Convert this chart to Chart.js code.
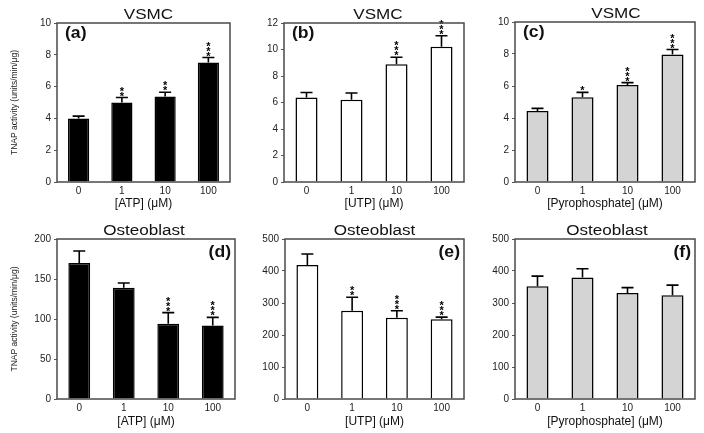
<!DOCTYPE html>
<html><head><meta charset="utf-8">
<script src="https://cdn.jsdelivr.net/npm/chart.js@4/dist/chart.umd.min.js"></script>
<style>
html,body{margin:0;padding:0;background:#fff;}
#wrap{position:relative;width:704px;height:433px;overflow:hidden;background:#fff;}
#wrap canvas{position:absolute;}
</style></head><body><div id="wrap"></div>
<script>
// ---- data ----
const categories = ['0', '1', '10', '100'];

const vsmcAtp    = [4.0, 5.0, 5.38, 7.52];
const vsmcAtpErr = [0.14, 0.31, 0.26, 0.31];
const vsmcAtpSig = ['', '**', '**', '***'];

const vsmcUtp    = [6.38, 6.2, 8.88, 10.2];
const vsmcUtpErr = [0.38, 0.52, 0.54, 0.84];
const vsmcUtpSig = ['', '', '***', '***'];

const vsmcPpi    = [4.44, 5.3, 6.06, 7.97];
const vsmcPpiErr = [0.16, 0.3, 0.15, 0.31];
const vsmcPpiSig = ['', '*', '***', '***'];

const obAtp    = [170, 139, 94, 92];
const obAtpErr = [15, 6, 14, 10];
const obAtpSig = ['', '', '***', '***'];

const obUtp    = [419, 276, 254, 249];
const obUtpErr = [34, 42, 22, 7];
const obUtpSig = ['', '**', '***', '***'];

const obPpi    = [352, 380, 331, 324];
const obPpiErr = [32, 27, 17, 32];
const obPpiSig = ['', '', '', ''];

const panelTitles = ['VSMC', 'VSMC', 'VSMC', 'Osteoblast', 'Osteoblast', 'Osteoblast'];
const panelLetters = ['(a)', '(b)', '(c)', '(d)', '(e)', '(f)'];
const xTitles = ['[ATP] (\u03BCM)', '[UTP] (\u03BCM)', '[Pyrophosphate] (\u03BCM)',
                 '[ATP] (\u03BCM)', '[UTP] (\u03BCM)', '[Pyrophosphate] (\u03BCM)'];
const yTitle = 'TNAP activity (units/min/\u03BCg)';
const yMax  = [10, 12, 10, 200, 500, 500];
const yStep = [2, 2, 2, 50, 100, 100];

// ---- layout (page pixels) ----
const panels = [
  {vals: vsmcAtp, err: vsmcAtpErr, sig: vsmcAtpSig, fill: '#000000', titleDx: 5,
   canvas: {l: 0, t: 0, w: 240, h: 215}, plot: {l: 57, t: 23, r: 230, b: 182}, letterLeft: true, yTitle: true},
  {vals: vsmcUtp, err: vsmcUtpErr, sig: vsmcUtpSig, fill: '#ffffff', titleDx: 4,
   canvas: {l: 240, t: 0, w: 236, h: 215}, plot: {l: 284, t: 23, r: 464, b: 182}, letterLeft: true},
  {vals: vsmcPpi, err: vsmcPpiErr, sig: vsmcPpiSig, fill: '#d4d4d4', titleDx: 11,
   canvas: {l: 476, t: 0, w: 228, h: 215}, plot: {l: 515, t: 22, r: 695, b: 182}, letterLeft: true},
  {vals: obAtp, err: obAtpErr, sig: obAtpSig, fill: '#000000', titleDx: -2,
   canvas: {l: 0, t: 215, w: 240, h: 218}, plot: {l: 57, t: 239, r: 235, b: 399}, letterLeft: false, yTitle: true},
  {vals: obUtp, err: obUtpErr, sig: obUtpSig, fill: '#ffffff', titleDx: 0,
   canvas: {l: 240, t: 215, w: 236, h: 218}, plot: {l: 285, t: 239, r: 464, b: 399}, letterLeft: false},
  {vals: obPpi, err: obPpiErr, sig: obPpiSig, fill: '#d4d4d4', titleDx: 2,
   canvas: {l: 476, t: 215, w: 228, h: 218}, plot: {l: 515, t: 239, r: 695, b: 399}, letterLeft: false},
];

const FONT = "'Liberation Sans', Arial, sans-serif";
const wrap = document.getElementById('wrap');

const decor = {
  id: 'decor',
  afterDatasetsDraw(chart, args, opts) {
    const p = opts.panel;
    const ctx = chart.ctx;
    const ca = chart.chartArea;
    const xs = chart.scales.x, ys = chart.scales.y;
    ctx.save();
    // error bars and significance stars
    const vals = p.vals, err = p.err, sig = p.sig;
    ctx.strokeStyle = '#000';
    ctx.lineWidth = 1.6;
    for (let i = 0; i < vals.length; i++) {
      const x = xs.getPixelForValue(i);
      const y0 = ys.getPixelForValue(vals[i]);
      const y1 = ys.getPixelForValue(vals[i] + err[i]);
      ctx.beginPath();
      ctx.moveTo(x, y0); ctx.lineTo(x, y1);
      ctx.moveTo(x - 6, y1); ctx.lineTo(x + 6, y1);
      ctx.stroke();
      const n = sig[i].length;
      ctx.fillStyle = '#000';
      ctx.font = 'bold 11px ' + FONT;
      ctx.textAlign = 'center';
      ctx.textBaseline = 'middle';
      for (let k = 0; k < n; k++) {
        ctx.fillText('*', x, y1 - 1 - k * 5);
      }
    }
    // frame
    ctx.strokeStyle = '#4a4a4a';
    ctx.lineWidth = 1.5;
    ctx.strokeRect(ca.left, ca.top, ca.right - ca.left, ca.bottom - ca.top);
    // title (slightly stretched horizontally)
    ctx.fillStyle = '#111';
    ctx.textAlign = 'center';
    ctx.textBaseline = 'middle';
    const cx = (ca.left + ca.right) / 2 + (p.titleDx || 0);
    ctx.save();
    ctx.translate(cx, ca.top - 8);
    ctx.scale(1.22, 1);
    ctx.font = '14px ' + FONT;
    ctx.fillText(opts.title, 0, 0);
    ctx.restore();
    // panel letter
    ctx.save();
    ctx.font = 'bold 16px ' + FONT;
    ctx.textBaseline = 'middle';
    if (p.letterLeft) {
      ctx.textAlign = 'left';
      ctx.translate(ca.left + 8, ca.top + 11);
    } else {
      ctx.textAlign = 'right';
      ctx.translate(ca.right - 4, ca.top + 14);
    }
    ctx.scale(1.1, 1);
    ctx.fillText(opts.letter, 0, 0);
    ctx.restore();
    ctx.restore();
  }
};

panels.forEach((p, idx) => {
  const cv = document.createElement('canvas');
  cv.width = p.canvas.w; cv.height = p.canvas.h;
  cv.style.left = p.canvas.l + 'px'; cv.style.top = p.canvas.t + 'px';
  cv.style.width = p.canvas.w + 'px'; cv.style.height = p.canvas.h + 'px';
  wrap.appendChild(cv);
  const yW = p.plot.l - p.canvas.l;
  const xH = p.canvas.t + p.canvas.h - p.plot.b;
  new Chart(cv, {
    type: 'bar',
    data: {
      labels: categories,
      datasets: [{
        data: p.vals,
        backgroundColor: p.fill,
        borderColor: '#000',
        borderWidth: 1.5,
        borderSkipped: 'start',
        barPercentage: 0.49,
        categoryPercentage: 1.0
      }]
    },
    options: {
      responsive: false,
      animation: false,
      devicePixelRatio: 1,
      layout: {padding: {left: 0, bottom: 0, top: p.plot.t - p.canvas.t, right: p.canvas.l + p.canvas.w - p.plot.r}},
      plugins: {
        legend: {display: false},
        tooltip: {enabled: false},
        decor: {panel: p, title: panelTitles[idx], letter: panelLetters[idx]}
      },
      scales: {
        x: {
          grid: {display: false, drawTicks: false, tickLength: 0},
          border: {display: false},
          ticks: {color: '#222', font: {family: FONT, size: 10}, padding: 3, maxRotation: 0},
          title: {display: true, text: xTitles[idx], color: '#111', font: {family: FONT, size: 12}, padding: {top: 0, bottom: 4}},
          afterFit(s) { s.height = xH; }
        },
        y: {
          min: 0, max: yMax[idx],
          grid: {display: true, drawOnChartArea: false, drawTicks: true, tickLength: 3, color: '#555', lineWidth: 1},
          border: {display: false},
          ticks: {stepSize: yStep[idx], color: '#222', font: {family: FONT, size: 10}, padding: 3},
          title: {display: !!p.yTitle, text: yTitle, color: '#222', font: {family: FONT, size: 8.5}, padding: {top: 10, bottom: 0}},
          afterFit(s) { s.width = yW; }
        }
      }
    },
    plugins: [decor]
  });
});
</script>
</body></html>
